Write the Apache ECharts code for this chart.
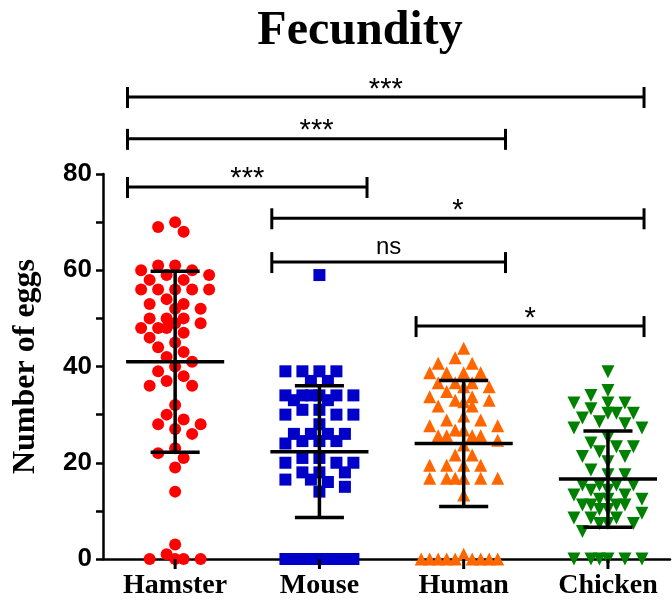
<!DOCTYPE html>
<html>
<head>
    <meta charset="UTF-8">
    <title>Fecundity</title>
    <script src="https://cdn.jsdelivr.net/npm/echarts@6/dist/echarts.min.js"></script>
    <style>
        html, body { margin: 0; padding: 0; background: #fff; }
    </style>
</head>
<body>
<div id="main" style="width: 672px;height:603px;"></div>
<script type="text/javascript">
    // groups on the x axis
    var groups = ['Hamster', 'Mouse', 'Human', 'Chicken'];

    // egg counts, one value per animal
    var hamster = [70, 69, 68, 61, 61, 60, 60, 59, 59, 58, 58, 56, 56, 56, 56, 56, 54, 53, 53, 52, 52,
        50, 50, 50, 49, 49, 48, 48, 48, 47, 46, 45, 44, 43, 42, 41, 40, 39, 38, 37, 36, 36,
        32, 30, 29, 28, 28, 27, 26, 23, 22, 21, 19, 14, 3, 1, 0, 0, 0, 0];
    var mouse = [59, 39, 39, 39, 39, 37, 37, 34, 34, 34, 34, 34, 34, 33, 33, 31, 31, 30, 30, 30, 28,
        26, 26, 26, 26, 24.5, 24.5, 24.5, 24, 21, 21, 20, 20, 20, 18, 18, 18, 16.5, 16.5, 16, 15, 14,
        0, 0, 0, 0, 0, 0, 0, 0, 0];
    var human = [43.8, 41.8, 40.7, 40.7, 38.7, 38.7, 38.7, 38.7, 36.6, 36.6, 36.6, 35.8, 35.8, 34.8,
        33.7, 33.7, 33, 33, 32.7, 31.8, 31.8, 29.7, 28.9, 28.9, 27.7, 27.7, 26.8, 26.8,
        25.6, 25.6, 25.6, 25.6, 24.7, 23.7, 21.6, 21.6, 19.5, 19.5, 19.5, 19.5,
        16.8, 16.8, 16.8, 16.8, 16.8, 16.8, 13.3, 1, 0, 0, 0, 0, 0, 0, 0, 0, 0];
    var chicken = [38.9, 35, 34, 32.4, 32.4, 32.4, 31.2, 30.3, 30.3, 30.3, 29.3, 28.5, 28.1, 27.2, 27.2,
        25.2, 24.1, 23.3, 23.3, 22.3, 21.3, 21.3, 20.2, 18.5, 17.5, 17.5,
        15.4, 15.4, 15.4, 15.4, 14.3, 14.3, 13.3, 13.3, 12.4, 12.4, 12.4, 11.2, 11.2, 11.2, 11.2,
        10.3, 10.3, 9.5, 8.5, 8.5, 8.5, 7.4, 7.4, 7.4, 5.7, 0, 0, 0, 0, 0, 0];

    // mean and SD as drawn in the picture
    var means = [41, 22.3, 24, 16.6];
    var sds = [18.8, 13.7, 13.1, 10];

    // comparisons: [from group, to group, label, height]
    var comparisons = [
        [0, 3, '***', 96],
        [0, 2, '***', 87.3],
        [0, 1, '***', 77.3],
        [1, 3, '*', 70.8],
        [1, 2, 'ns', 61.7],
        [2, 3, '*', 48.4]
    ];

    var myChart = echarts.init(document.getElementById('main'));

    var serif = 'Liberation Serif';
    var sans = 'Liberation Sans';

    var option = {
        animation: false,
        backgroundColor: '#ffffff',
        title: {
            text: 'Fecundity',
            left: 355,
            textAlign: 'center',
            top: 3,
            textStyle: {fontFamily: serif, fontWeight: 'bold', fontSize: 48, color: '#000'}
        },
        grid: {left: 103, right: 2, top: 174, bottom: 44, containLabel: false, outerBoundsMode: 'none'},
        xAxis: {
            type: 'value',
            min: -0.5,
            max: 3.43,
            splitLine: {show: false},
            axisLine: {onZero: false, lineStyle: {color: '#000', width: 2.5}},
            axisTick: {show: false},
            axisLabel: {
                customValues: [0, 1, 2, 3],
                margin: 13,
                fontFamily: serif, fontWeight: 'bold', fontSize: 28, color: '#000',
                formatter: function (v) { return groups[Math.round(v)]; }
            }
        },
        yAxis: {
            type: 'value',
            min: 0,
            max: 80,
            interval: 20,
            name: 'Number of eggs',
            nameLocation: 'middle',
            nameGap: 61,
            nameTextStyle: {fontFamily: serif, fontWeight: 'bold', fontSize: 32, color: '#000'},
            splitLine: {show: false},
            axisLine: {show: true, onZero: false, lineStyle: {color: '#000', width: 2.5}},
            axisTick: {show: true, length: 7, lineStyle: {color: '#000', width: 2.5}},
            minorTick: {show: true, splitNumber: 2, length: 7, lineStyle: {color: '#000', width: 2.5}},
            axisLabel: {margin: 11, fontFamily: sans, fontWeight: 'bold', fontSize: 26, color: '#000'}
        },
        series: []
    };
    myChart.setOption(option);

    // beeswarm like Prism: spread points sideways (pixels), first keeping them apart
    // inside a fixed width, then letting them overlap when the width is used up
    function swarm(vals, gi, dist, step, maxW) {
        var unit = myChart.convertToPixel({gridIndex: 0}, [1, 0])[0] - myChart.convertToPixel({gridIndex: 0}, [0, 0])[0];
        var placed = [];
        var out = [];
        function fits(off, py, d) {
            return placed.every(function (p) {
                var dx = p[0] - off, dy = p[1] - py;
                return dx * dx + dy * dy >= d * d;
            });
        }
        vals.forEach(function (v) {
            var py = myChart.convertToPixel({gridIndex: 0}, [gi, v])[1];
            var tries = [[dist, maxW], [8.4, maxW], [8.4, 1000]];
            var off = 0;
            for (var t = 0; t < tries.length; t++) {
                var found = false;
                for (var k = 0; ; k++) {
                    off = k === 0 ? 0 : (k % 2 ? -1 : 1) * Math.ceil(k / 2) * step;
                    if (Math.abs(off) > tries[t][1]) break;
                    if (fits(off, py, tries[t][0])) { found = true; break; }
                }
                if (found) break;
            }
            placed.push([off, py]);
            out.push([gi + off / unit, v]);
        });
        return out;
    }

    var dots = [
        {data: hamster, color: '#ff0000', symbol: 'circle', size: 12, rot: 0},
        {data: mouse, color: '#0000c8', symbol: 'rect', size: 12, rot: 0},
        {data: human, color: '#ff6600', symbol: 'triangle', size: 13, rot: 0},
        {data: chicken, color: '#008000', symbol: 'triangle', size: 13, rot: 180}
    ];

    var series = dots.map(function (d, i) {
        return {
            name: groups[i],
            type: 'scatter',
            clip: false,
            symbol: d.symbol,
            symbolSize: d.size,
            symbolRotate: d.rot,
            itemStyle: {color: d.color, opacity: 1},
            z: 2,
            data: swarm(d.data, i, 12, 8.5, 36)
        };
    });

    // mean +- SD bars, plus the x tick under each group
    series.push({
        type: 'custom',
        z: 5,
        clip: false,
        data: means.map(function (m, i) { return [i, m, sds[i]]; }),
        renderItem: function (params, api) {
            var x = api.value(0), m = api.value(1), s = api.value(2);
            var style = {stroke: '#000', lineWidth: 3.5};
            var lo = api.coord([x, m - s]), hi = api.coord([x, m + s]);
            var mid = api.coord([x, m]);
            var base = api.coord([x, 0]);
            var w = api.coord([x + 0.34, m])[0] - mid[0];
            var c = api.coord([x + 0.17, m])[0] - mid[0];
            return {
                type: 'group',
                children: [
                    {type: 'line', shape: {x1: base[0], y1: base[1], x2: base[0], y2: base[1] + 10}, style: {stroke: '#000', lineWidth: 3}},
                    {type: 'line', shape: {x1: lo[0], y1: lo[1], x2: hi[0], y2: hi[1]}, style: style},
                    {type: 'line', shape: {x1: mid[0] - w, y1: mid[1], x2: mid[0] + w, y2: mid[1]}, style: style},
                    {type: 'line', shape: {x1: lo[0] - c, y1: lo[1], x2: lo[0] + c, y2: lo[1]}, style: style},
                    {type: 'line', shape: {x1: hi[0] - c, y1: hi[1], x2: hi[0] + c, y2: hi[1]}, style: style}
                ]
            };
        }
    });

    // significance brackets
    series.push({
        type: 'custom',
        z: 6,
        clip: false,
        data: comparisons.map(function (c) { return [c[0] - 0.33, c[1] + 0.37 - 0.04 * c[1], c[3], c[2]]; }),
        renderItem: function (params, api) {
            var a = api.coord([api.value(0), api.value(2)]);
            var b = api.coord([api.value(1), api.value(2)]);
            var label = comparisons[params.dataIndex][2];
            var style = {stroke: '#000', lineWidth: 3};
            var stars = label.indexOf('*') >= 0;
            return {
                type: 'group',
                children: [
                    {type: 'line', shape: {x1: a[0], y1: a[1], x2: b[0], y2: b[1]}, style: style},
                    {type: 'line', shape: {x1: a[0], y1: a[1] - 10, x2: a[0], y2: a[1] + 11}, style: style},
                    {type: 'line', shape: {x1: b[0], y1: b[1] - 10, x2: b[0], y2: b[1] + 11}, style: style},
                    {
                        type: 'text',
                        x: (a[0] + b[0]) / 2,
                        y: a[1] - (stars ? -7 : 3),
                        style: {
                            text: label,
                            fill: '#000',
                            font: (stars ? '29px ' : '24px ') + '"' + sans + '"',
                            align: 'center',
                            verticalAlign: 'bottom'
                        }
                    }
                ]
            };
        }
    });

    myChart.setOption({series: series});
</script>
</body>
</html>
